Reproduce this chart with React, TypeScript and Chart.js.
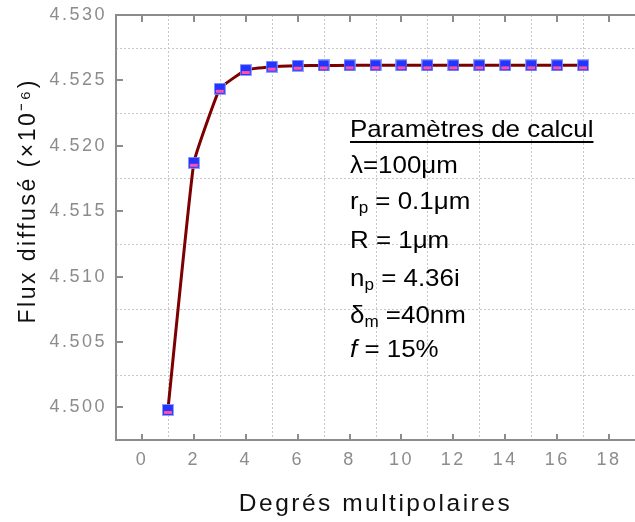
import React, { useEffect, useRef } from "react";
import { Chart, registerables } from "chart.js";

Chart.register(...registerables);

const degrees = [1, 2, 3, 4, 5, 6, 7, 8, 9, 10, 11, 12, 13, 14, 15, 16, 17];
const flux = [
  4.4998, 4.5187, 4.52436, 4.52579, 4.52605, 4.52612, 4.52614, 4.52615,
  4.52615, 4.52615, 4.52615, 4.52615, 4.52615, 4.52615, 4.52615, 4.52615, 4.52615,
];
const xTickValues = [0, 2, 4, 6, 8, 10, 12, 14, 16, 18];
const yTickValues = [4.5, 4.505, 4.51, 4.515, 4.52, 4.525, 4.53];
const xGridValues = [1, 3, 5, 7, 9, 11, 13, 15, 17];
const yGridValues = [4.5025, 4.5075, 4.5125, 4.5175, 4.5225, 4.5275];
const xTitle = "Degrés multipolaires";
const yTitle = "Flux diffusé (×10⁻⁶)";

const AXIS = "#8c8c8c";
const FONT = "'Liberation Sans', Arial, sans-serif";

function makeMarker(): HTMLCanvasElement {
  const c = document.createElement("canvas");
  c.width = 12;
  c.height = 12;
  const g = c.getContext("2d")!;
  g.fillStyle = "rgba(130,145,255,0.85)";
  g.fillRect(0, 0, 12, 12);
  g.fillStyle = "#2236ff";
  g.fillRect(1, 1, 10, 10);
  g.fillStyle = "#ff50a8";
  g.fillRect(2, 7, 8, 3);
  return c;
}

function zeroPad(s: any) {
  s.paddingLeft = 0;
  s.paddingRight = 0;
  s.paddingTop = 0;
  s.paddingBottom = 0;
}

const spacingPlugin = {
  id: "spacing",
  beforeLayout(chart: any) {
    chart.ctx.letterSpacing = "2.5px";
  },
  beforeDraw(chart: any) {
    chart.ctx.letterSpacing = "2.5px";
  },
};

const framePlugin = {
  id: "frame",
  beforeDatasetsDraw(chart: any) {
    const { ctx, chartArea: a, scales } = chart;
    const x = scales.x;
    const y = scales.y;
    ctx.save();
    ctx.strokeStyle = "#c8c8c8";
    ctx.lineWidth = 1;
    ctx.setLineDash([2, 2]);
    for (const v of xGridValues) {
      const px = Math.round(x.getPixelForValue(v)) + 0.5;
      ctx.beginPath();
      ctx.moveTo(px, a.top);
      ctx.lineTo(px, a.bottom);
      ctx.stroke();
    }
    for (const v of yGridValues) {
      const py = Math.round(y.getPixelForValue(v)) + 0.5;
      ctx.beginPath();
      ctx.moveTo(a.left, py);
      ctx.lineTo(a.right, py);
      ctx.stroke();
    }
    ctx.setLineDash([]);
    ctx.strokeStyle = AXIS;
    ctx.lineWidth = 2;
    ctx.beginPath();
    ctx.moveTo(a.right, a.top);
    ctx.lineTo(a.left, a.top);
    ctx.lineTo(a.left, a.bottom);
    ctx.lineTo(a.right, a.bottom);
    ctx.stroke();
    ctx.beginPath();
    for (const v of xTickValues) {
      const px = Math.round(x.getPixelForValue(v));
      ctx.moveTo(px, a.bottom);
      ctx.lineTo(px, a.bottom - 6);
      ctx.moveTo(px, a.top);
      ctx.lineTo(px, a.top + 7);
    }
    for (const v of yTickValues) {
      const py = Math.round(y.getPixelForValue(v));
      ctx.moveTo(a.left, py);
      ctx.lineTo(a.left + 7, py);
    }
    ctx.stroke();
    ctx.restore();
  },
};

export default function App() {
  const ref = useRef<HTMLCanvasElement | null>(null);

  useEffect(() => {
    const marker = makeMarker();
    const chart = new Chart(ref.current!, {
      type: "line",
      data: {
        datasets: [
          {
            data: degrees.map((d, i) => ({ x: d, y: flux[i] })),
            borderColor: "#7c0000",
            borderWidth: 3,
            tension: 0.1,
            pointStyle: marker as any,
            pointRadius: 6,
            fill: false,
          },
        ],
      },
      options: {
        animation: false,
        responsive: false,
        devicePixelRatio: 1,
        layout: { autoPadding: false, padding: { top: 15, right: 0, bottom: 0, left: 0 } },
        plugins: { legend: { display: false }, tooltip: { enabled: false } },
        scales: {
          x: {
            type: "linear",
            min: -1,
            max: 19,
            grid: { display: false, drawTicks: false },
            border: { display: false },
            afterBuildTicks: (s: any) => {
              s.ticks = xTickValues.map((v) => ({ value: v }));
            },
            afterFit: (s: any) => {
              s.height = 82;
              zeroPad(s);
            },
            ticks: {
              color: AXIS,
              font: { family: FONT, size: 18 },
              padding: 9,
              maxRotation: 0,
              autoSkip: false,
              callback: (v: any) => String(v),
            },
            title: {
              display: true,
              text: xTitle,
              color: "#111",
              font: { family: FONT, size: 24.5 },
              padding: { top: 0, bottom: 3 },
            },
          },
          y: {
            type: "linear",
            min: 4.4975,
            max: 4.53,
            grid: { display: false, drawTicks: false },
            border: { display: false },
            afterBuildTicks: (s: any) => {
              s.ticks = yTickValues.map((v) => ({ value: v }));
            },
            afterFit: (s: any) => {
              s.width = 116;
              zeroPad(s);
            },
            ticks: {
              color: AXIS,
              font: { family: FONT, size: 18 },
              padding: 9,
              autoSkip: false,
              callback: (v: any) => Number(v).toFixed(3),
            },
            title: {
              display: true,
              text: "      " + yTitle,
              color: "#111",
              font: { family: FONT, size: 23 },
              padding: { top: 15, bottom: 0 },
            },
          },
        },
      },
      plugins: [spacingPlugin, framePlugin],
    });
    return () => chart.destroy();
  }, []);

  const baselines = [137, 173, 209, 248, 286, 323, 357];
  const lineAt = (i: number): React.CSSProperties => ({
    position: "absolute",
    left: 350,
    top: baselines[i] - 23,
    whiteSpace: "nowrap",
    fontFamily: FONT,
    fontSize: 24,
    lineHeight: "30px",
    color: "#000",
    transform: "scaleX(1.08)",
    transformOrigin: "0 0",
  });
  const sub: React.CSSProperties = {
    fontSize: "0.66em",
    verticalAlign: "-0.25em",
    lineHeight: 0,
  };

  return (
    <div style={{ position: "fixed", left: 0, top: 0, width: 635, height: 522, background: "#fff" }}>
      <canvas ref={ref} width={635} height={522} style={{ display: "block" }} />
      <div style={{ ...lineAt(0), textDecoration: "underline", textDecorationThickness: 2, textUnderlineOffset: 4 }}>
        Paramètres de calcul
      </div>
      <div style={lineAt(1)}>λ=100μm</div>
      <div style={lineAt(2)}>
        r<span style={sub}>p</span> = 0.1μm
      </div>
      <div style={lineAt(3)}>R = 1μm</div>
      <div style={lineAt(4)}>
        n<span style={sub}>p</span> = 4.36i
      </div>
      <div style={lineAt(5)}>
        δ<span style={sub}>m</span> =40nm
      </div>
      <div style={lineAt(6)}>
        <i>f</i> = 15%
      </div>
    </div>
  );
}
